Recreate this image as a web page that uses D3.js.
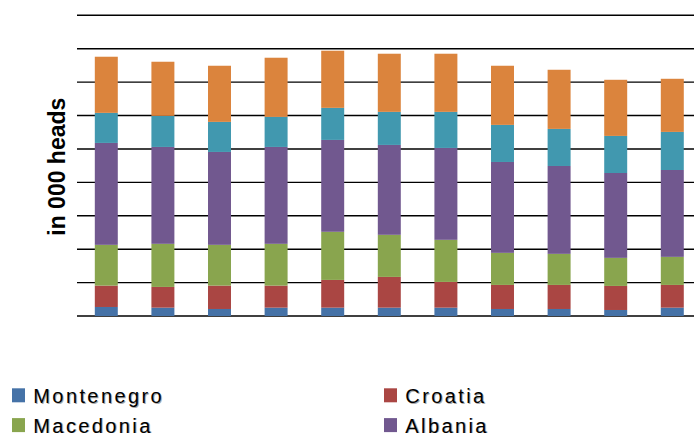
<!DOCTYPE html>
<html>
<head>
<meta charset="utf-8">
<script src="https://cdn.jsdelivr.net/npm/d3@7"></script>
<style>
  html, body { margin: 0; padding: 0; background: #fff; }
  svg { display: block; overflow: hidden; }
</style>
</head>
<body>
<svg id="chart" width="694" height="437"></svg>
<script>
// ---- data (thousand heads) ----
const categories = ["2000","2001","2002","2003","2004","2005","2006","2007","2008","2009","2010"];
const seriesNames = ["Montenegro","Croatia","Macedonia","Albania","Serbia","Bosnia and Herzegovina"];
const montenegro = [27, 25, 21, 25, 25, 25, 25, 21, 21, 18, 25];
const croatia    = [64, 62, 70, 66, 83, 92, 77, 72, 72, 72, 68];
const macedonia  = [122,129,122,125,144,126,126, 96, 93, 84, 84];
const albania    = [305,290,278,290,275,269,275,272,263,254,260];
const serbia     = [90, 93, 90, 90, 96, 99,108,111,111,111,114];
const bosnia     = [168,162,168,177,171,174,174,177,177,168,159];
const yTicks = [0,100,200,300,400,500,600,700,800,900];
const colors = ["#4572A7","#AA4643","#89A54E","#71588F","#4198AF","#DB843D"];
// legend entries visible in the (cropped) picture
const legendNames = seriesNames.slice(0, 4);

const seriesValues = [montenegro, croatia, macedonia, albania, serbia, bosnia];
const rows = categories.map((c, i) => {
  const r = { cat: c };
  seriesNames.forEach((s, j) => r[s] = seriesValues[j][i]);
  return r;
});

const svg = d3.select("#chart");

const x = d3.scaleBand().domain(categories).range([78, 700.6]).paddingInner(0.594).paddingOuter(0.297);
const y = d3.scaleLinear().domain([0, 900]).range([316, 15.3]);

// gridlines
svg.append("g").selectAll("line").data(yTicks).join("line")
  .attr("x1", 77).attr("x2", 694)
  .attr("y1", d => y(d)).attr("y2", d => y(d))
  .attr("stroke", "#000").attr("stroke-width", 1.4);

// stacked bars
const stack = d3.stack().keys(seriesNames)(rows);
svg.append("g").selectAll("g").data(stack).join("g")
  .attr("fill", (d, i) => colors[i])
  .selectAll("rect").data(d => d).join("rect")
  .attr("x", d => x(d.data.cat))
  .attr("width", x.bandwidth())
  .attr("y", d => y(d[1]))
  .attr("height", d => y(d[0]) - y(d[1]));

// y axis title
svg.append("text")
  .attr("transform", "translate(65,166.7) rotate(-90)")
  .attr("text-anchor", "middle")
  .attr("font-family", "Liberation Sans, Arial, sans-serif")
  .attr("font-weight", "bold")
  .attr("font-size", 23)
  .attr("fill", "#000")
  .text("in 000 heads");

// legend (two columns)
const legendCols = [12, 384];
const legendRows = [402.7, 432.5];
const lg = svg.append("g").selectAll("g").data(legendNames).join("g")
  .attr("transform", (d, i) => `translate(${legendCols[i % 2]},${legendRows[Math.floor(i / 2)]})`);
lg.append("rect").attr("x", 0).attr("y", -14.4).attr("width", 13).attr("height", 14)
  .attr("fill", (d, i) => colors[seriesNames.indexOf(d)]);
lg.append("text").attr("x", 22.3).attr("y", 0.8)
  .attr("font-family", "Liberation Sans, Arial, sans-serif")
  .attr("font-size", 20).attr("letter-spacing", 2.4)
  .attr("fill", "#aaa").text(d => d);
lg.append("text").attr("x", 21.3).attr("y", 0)
  .attr("font-family", "Liberation Sans, Arial, sans-serif")
  .attr("font-size", 20).attr("letter-spacing", 2.4)
  .attr("fill", "#000").text(d => d);
</script>
</body>
</html>
